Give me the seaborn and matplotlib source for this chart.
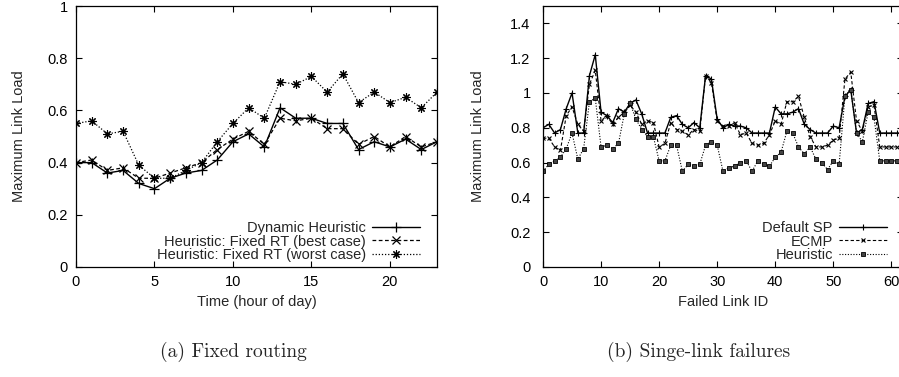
import matplotlib
matplotlib.use("Agg")
import matplotlib.pyplot as plt
import seaborn as sns
import pandas as pd

# (a) Fixed routing: max link load per hour of day
hours = list(range(24))
dynamic = [0.40, 0.40, 0.36, 0.37, 0.32, 0.30, 0.34, 0.36, 0.37, 0.41, 0.48, 0.51,
           0.46, 0.61, 0.57, 0.57, 0.55, 0.55, 0.45, 0.48, 0.46, 0.49, 0.45, 0.48]
best_case = [0.40, 0.41, 0.37, 0.38, 0.34, 0.34, 0.36, 0.38, 0.40, 0.45, 0.49, 0.52,
             0.47, 0.57, 0.56, 0.57, 0.53, 0.53, 0.47, 0.50, 0.46, 0.50, 0.46, 0.48]
worst_case = [0.55, 0.56, 0.51, 0.52, 0.39, 0.34, 0.34, 0.37, 0.40, 0.48, 0.55, 0.61,
              0.57, 0.71, 0.70, 0.73, 0.67, 0.74, 0.63, 0.67, 0.63, 0.65, 0.61, 0.67]

# (b) Single-link failures: max link load per failed link
link_ids = list(range(63))
default_sp = [0.80, 0.82, 0.77, 0.79, 0.91, 1.00, 0.77, 0.77, 1.10, 1.22,
              0.89, 0.87, 0.83, 0.91, 0.89, 0.94, 0.96, 0.88, 0.77, 0.77,
              0.77, 0.77, 0.86, 0.87, 0.82, 0.80, 0.83, 0.80, 1.10, 1.08,
              0.85, 0.80, 0.82, 0.81, 0.81, 0.80, 0.77, 0.77, 0.77, 0.77,
              0.92, 0.88, 0.88, 0.89, 0.91, 0.82, 0.79, 0.77, 0.77, 0.77,
              0.81, 0.80, 0.98, 1.02, 0.77, 0.79, 0.94, 0.95, 0.77, 0.77,
              0.77, 0.77, 0.77]
ecmp = [0.74, 0.74, 0.69, 0.67, 0.87, 0.92, 0.82, 0.78, 1.05, 1.13,
        0.84, 0.87, 0.82, 0.86, 0.89, 0.93, 0.89, 0.82, 0.84, 0.83,
        0.69, 0.71, 0.83, 0.79, 0.78, 0.76, 0.79, 0.78, 1.10, 1.06,
        0.84, 0.81, 0.81, 0.83, 0.76, 0.77, 0.71, 0.70, 0.71, 0.76,
        0.84, 0.82, 0.95, 0.95, 0.98, 0.86, 0.75, 0.69, 0.69, 0.70,
        0.73, 0.74, 1.08, 1.12, 0.84, 0.78, 0.92, 0.93, 0.69, 0.69,
        0.69, 0.69, 0.69]
heuristic = [0.55, 0.59, 0.61, 0.63, 0.68, 0.77, 0.62, 0.68, 0.95, 0.97,
             0.69, 0.70, 0.68, 0.71, 0.88, 0.94, 0.85, 0.79, 0.75, 0.75,
             0.61, 0.61, 0.70, 0.70, 0.55, 0.59, 0.58, 0.59, 0.70, 0.72,
             0.70, 0.55, 0.57, 0.58, 0.60, 0.61, 0.55, 0.61, 0.59, 0.58,
             0.63, 0.66, 0.78, 0.77, 0.69, 0.65, 0.69, 0.62, 0.60, 0.56,
             0.61, 0.59, 0.98, 1.02, 0.77, 0.72, 0.89, 0.86, 0.61, 0.61,
             0.61, 0.61, 0.61]

left_xticks = [0, 5, 10, 15, 20]
left_yticks = [0, 0.2, 0.4, 0.6, 0.8, 1.0]
left_ylabels = ["0", "0.2", "0.4", "0.6", "0.8", "1"]
right_xticks = [0, 10, 20, 30, 40, 50, 60]
right_yticks = [0, 0.2, 0.4, 0.6, 0.8, 1.0, 1.2, 1.4]
right_ylabels = ["0", "0.2", "0.4", "0.6", "0.8", "1", "1.2", "1.4"]

sns.set_style("ticks")
plt.rcParams["font.family"] = ["Liberation Sans", "DejaVu Sans"]
plt.rcParams["font.size"] = 10.5

df_a = pd.DataFrame({"hour": hours, "dyn": dynamic, "best": best_case, "worst": worst_case})
df_b = pd.DataFrame({"link": link_ids, "sp": default_sp, "ecmp": ecmp, "heur": heuristic})

fig = plt.figure(figsize=(8.99, 3.77), dpi=100)
ax1 = fig.add_axes([76 / 899, 110 / 377, 361 / 899, 261 / 377])
ax2 = fig.add_axes([543 / 899, 110 / 377, 360 / 899, 261 / 377])

star = (8, 2, 0)

# left panel
sns.lineplot(data=df_a, x="hour", y="dyn", ax=ax1, color="black", lw=1.0,
             marker="+", ms=7, mew=0.9, mec="black", label="Dynamic Heuristic")
sns.lineplot(data=df_a, x="hour", y="best", ax=ax1, color="black", lw=0.9,
             linestyle=(0, (3, 2)), marker="x", ms=6, mew=0.9, mec="black",
             label="Heuristic: Fixed RT (best case)")
sns.lineplot(data=df_a, x="hour", y="worst", ax=ax1, color="black", lw=0.9,
             linestyle=(0, (1, 1.5)), marker=star, ms=6, mew=0.8, mec="black",
             label="Heuristic: Fixed RT (worst case)")

# right panel
sns.lineplot(data=df_b, x="link", y="sp", ax=ax2, color="black", lw=1.0,
             marker="+", ms=4.5, mew=0.8, mec="black", label="Default SP")
sns.lineplot(data=df_b, x="link", y="ecmp", ax=ax2, color="black", lw=0.8,
             linestyle=(0, (3, 2)), marker="x", ms=3.5, mew=0.8, mec="black",
             label="ECMP")
sns.lineplot(data=df_b, x="link", y="heur", ax=ax2, color="black", lw=0.8,
             linestyle=(0, (1, 1.5)), marker="s", ms=3.2, mfc="#444444",
             mec="black", mew=0.6, label="Heuristic")

ax1.set_xlim(0, 23)
ax1.set_ylim(0, 1)
ax1.set_xticks(left_xticks)
ax1.set_yticks(left_yticks)
ax1.set_yticklabels(left_ylabels)
ax1.set_xlabel("Time (hour of day)", labelpad=4)
ax1.set_ylabel("Maximum Link Load", labelpad=15)

ax2.set_xlim(0, 62)
ax2.set_ylim(0, 1.5)
ax2.set_xticks(right_xticks)
ax2.set_yticks(right_yticks)
ax2.set_yticklabels(right_ylabels)
ax2.set_xlabel("Failed Link ID", labelpad=4)
ax2.set_ylabel("Maximum Link Load", labelpad=18)

for ax in (ax1, ax2):
    ax.tick_params(direction="in", top=True, right=True, length=4, width=0.8,
                   labelsize=10.5, pad=6, colors="black")
    for s in ax.spines.values():
        s.set_visible(True)
        s.set_linewidth(0.9)
        s.set_color("black")
ax2.tick_params(axis="y", pad=9)

ax1.legend(loc="lower right", bbox_to_anchor=(0.953, 0.02), frameon=False,
           markerfirst=False, handlelength=3.3, handletextpad=0.4,
           labelspacing=-0.05, borderpad=0, borderaxespad=0, fontsize=10.5)
ax2.legend(loc="lower right", bbox_to_anchor=(0.955, 0.02), frameon=False,
           markerfirst=False, handlelength=3.3, handletextpad=0.4,
           labelspacing=-0.05, borderpad=0, borderaxespad=0, fontsize=10.5)

fig.text(233 / 899, 1 - 352 / 377, "(a) Fixed routing", family="cmr10",
         fontsize=14, ha="center", va="center")
fig.text(699 / 899, 1 - 352 / 377, "(b) Singe-link failures", family="cmr10",
         fontsize=14, ha="center", va="center")

fig.savefig("out.png", dpi=100)
